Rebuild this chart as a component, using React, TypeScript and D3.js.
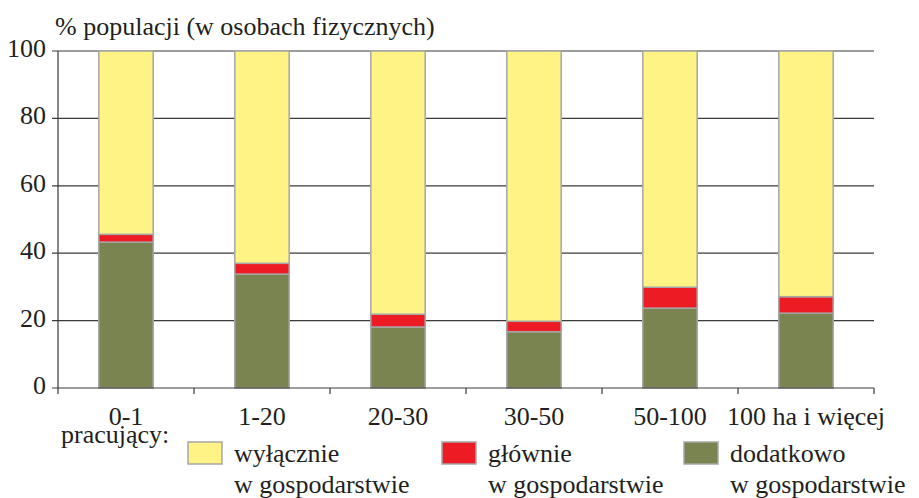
import React from "react";
import * as d3 from "d3";

const categories = ["0-1", "1-20", "20-30", "30-50", "50-100", "100 ha i więcej"];
const dodatkowo = [43.3, 33.8, 18.1, 16.7, 23.7, 22.2];
const glownie = [2.3, 3.2, 3.8, 3.1, 6.2, 4.9];
const wylacznie = categories.map((_, i) => 100 - dodatkowo[i] - glownie[i]);
const yTicks = [0, 20, 40, 60, 80, 100];
const seriesKeys = ["dodatkowo", "glownie", "wylacznie"];
const seriesColors = ["#7a8450", "#ed1c24", "#fff385"];
const legendLine1 = ["wyłącznie", "głównie", "dodatkowo"];
const legendLine2 = ["w gospodarstwie", "w gospodarstwie", "w gospodarstwie"];
const legendColors = ["#fff385", "#ed1c24", "#7a8450"];

const W = 919;
const H = 498;
const FONT = "Liberation Serif";
const TEXT = "#231f20";
const AXIS = "#3a3a3a";

const left = 58, right = 874, top = 51, bottom = 388;
const x = d3.scaleBand<string>().domain(categories).range([left, right]).paddingInner(0.6).paddingOuter(0.3);
const y = d3.scaleLinear().domain([0, 100]).range([bottom, top]);

const table = categories.map((c, i) => ({
  cat: c,
  dodatkowo: dodatkowo[i],
  glownie: glownie[i],
  wylacznie: wylacznie[i],
}));
const stacked = d3.stack<any>().keys(seriesKeys)(table);

export default function App() {
  const step = x.step();
  const boundaries = categories.map((c) => x(c)! - (step - x.bandwidth()) / 2).concat([right]);
  const legendX = [188, 442, 684];
  const ts = { fontFamily: FONT, fontSize: "26px" };

  return (
    <svg width={W} height={H} style={{ position: "absolute", left: 0, top: 0, background: "#fff", display: "block" }}>
      {yTicks.filter((t) => t > 0).map((t) => (
        <line key={"g" + t} x1={left - 6} x2={right} y1={y(t)} y2={y(t)} stroke={AXIS} strokeWidth={1.2} />
      ))}
      {stacked.map((layer, li) => (
        <g key={"s" + li}>
          {layer.map((d: any) => (
            <rect
              key={d.data.cat}
              x={x(d.data.cat)!}
              width={x.bandwidth()}
              y={y(d[1])}
              height={y(d[0]) - y(d[1])}
              fill={seriesColors[li]}
              stroke="#a6a6a6"
              strokeWidth={1.5}
            />
          ))}
        </g>
      ))}
      <line x1={left} x2={left} y1={top} y2={bottom} stroke={AXIS} strokeWidth={1.2} />
      <line x1={left - 6} x2={right} y1={bottom} y2={bottom} stroke={AXIS} strokeWidth={1.2} />
      {boundaries.map((b, i) => (
        <line key={"b" + i} x1={b} x2={b} y1={bottom} y2={bottom + 6} stroke={AXIS} strokeWidth={1.2} />
      ))}
      {yTicks.map((t) => (
        <text key={"yl" + t} x={left - 12} y={y(t) + 6} textAnchor="end" fill={TEXT} style={ts}>
          {t}
        </text>
      ))}
      {categories.map((c) => (
        <text key={"xl" + c} x={x(c)! + x.bandwidth() / 2} y={425} textAnchor="middle" fill={TEXT} style={ts}>
          {c}
        </text>
      ))}
      <text x={55} y={35} fill={TEXT} style={ts}>% populacji (w osobach fizycznych)</text>
      <text x={61} y={443} fill={TEXT} style={ts}>pracujący:</text>
      {legendColors.map((col, i) => (
        <g key={"lg" + i} transform={`translate(${legendX[i]},0)`}>
          <rect x={0} y={442} width={34} height={22} fill={col} stroke="#a6a6a6" strokeWidth={1.5} />
          <text x={46} y={462} fill={TEXT} style={ts}>{legendLine1[i]}</text>
          <text x={46} y={493} fill={TEXT} style={ts}>{legendLine2[i]}</text>
        </g>
      ))}
    </svg>
  );
}
